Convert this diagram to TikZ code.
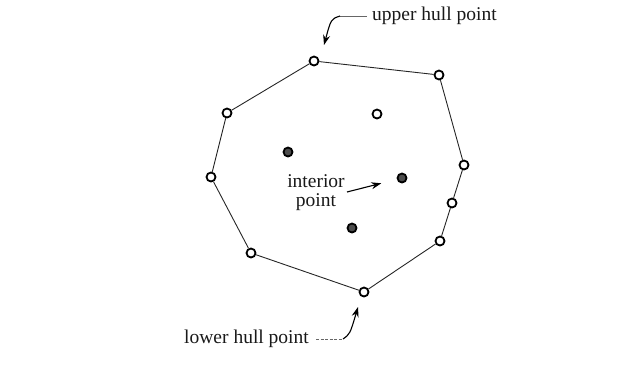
\documentclass[tikz,border=0pt]{standalone}
\usepackage{fontspec}
\setmainfont{Liberation Serif}
\usetikzlibrary{arrows.meta}
\begin{document}
\begin{tikzpicture}[x=1pt,y=-1pt,
  hullpt/.style={circle,draw=black,line width=1.8pt,fill=white,inner sep=0pt,minimum size=9pt},
  intpt/.style={circle,draw=black,line width=1.8pt,fill=black!70,inner sep=0pt,minimum size=9pt},
  openpt/.style={circle,draw=black,line width=1.8pt,fill=white,inner sep=0pt,minimum size=9pt},
  edge/.style={line width=0.9pt,draw=black!85},
  lbl/.style={font=\fontsize{19.5}{21}\selectfont,inner sep=0pt,text=black!90},
  lead/.style={line width=0.8pt,draw=black!60,dash pattern=on 3pt off 1.5pt},
  arr/.style={line width=1.1pt,-{Stealth[length=10pt,width=7pt]}}]
\useasboundingbox (0,0) rectangle (637,370);
% hull points
\node[hullpt] (p1) at (314,61) {};
\node[hullpt] (p2) at (439,75) {};
\node[hullpt] (p3) at (464,165) {};
\node[hullpt] (p4) at (452,203) {};
\node[hullpt] (p5) at (440,241) {};
\node[hullpt] (p6) at (364,292) {};
\node[hullpt] (p7) at (251,253) {};
\node[hullpt] (p8) at (211,177) {};
\node[hullpt] (p9) at (227,113) {};
% interior points
\node[openpt] (i1) at (377,114) {};
\node[intpt] (i2) at (288,152) {};
\node[intpt] (i3) at (402,178) {};
\node[intpt] (i4) at (352,228) {};
% hull edges
\draw[edge] (p1) -- (p2) -- (p3) -- (p4) -- (p5) -- (p6) -- (p7) -- (p8) -- (p9) -- (p1);
% labels
\node[lbl,anchor=west] (up) at (372,16) {upper hull point};
\node[lbl,align=center] (int) at (316,193) {interior\\[-2pt]point};
\node[lbl,anchor=east] (low) at (309,339) {lower hull point};
% leaders
\coordinate (ua) at (340,16);
\coordinate (ut) at (324,45);
\draw[line width=0.8pt,draw=black!60] (up.west) ++(-5,0) -- (ua);
\draw[arr] (ua) .. controls (331,19) .. (ut);
\draw[arr,shorten >=16pt] (347,192) -- (i3);
\coordinate (la) at (343,339);
\coordinate (lt) at (358,307);
\draw[lead] (low.east) ++(7,0) -- (la);
\draw[arr] (la) .. controls (350,334) .. (lt);
\end{tikzpicture}
\end{document}
